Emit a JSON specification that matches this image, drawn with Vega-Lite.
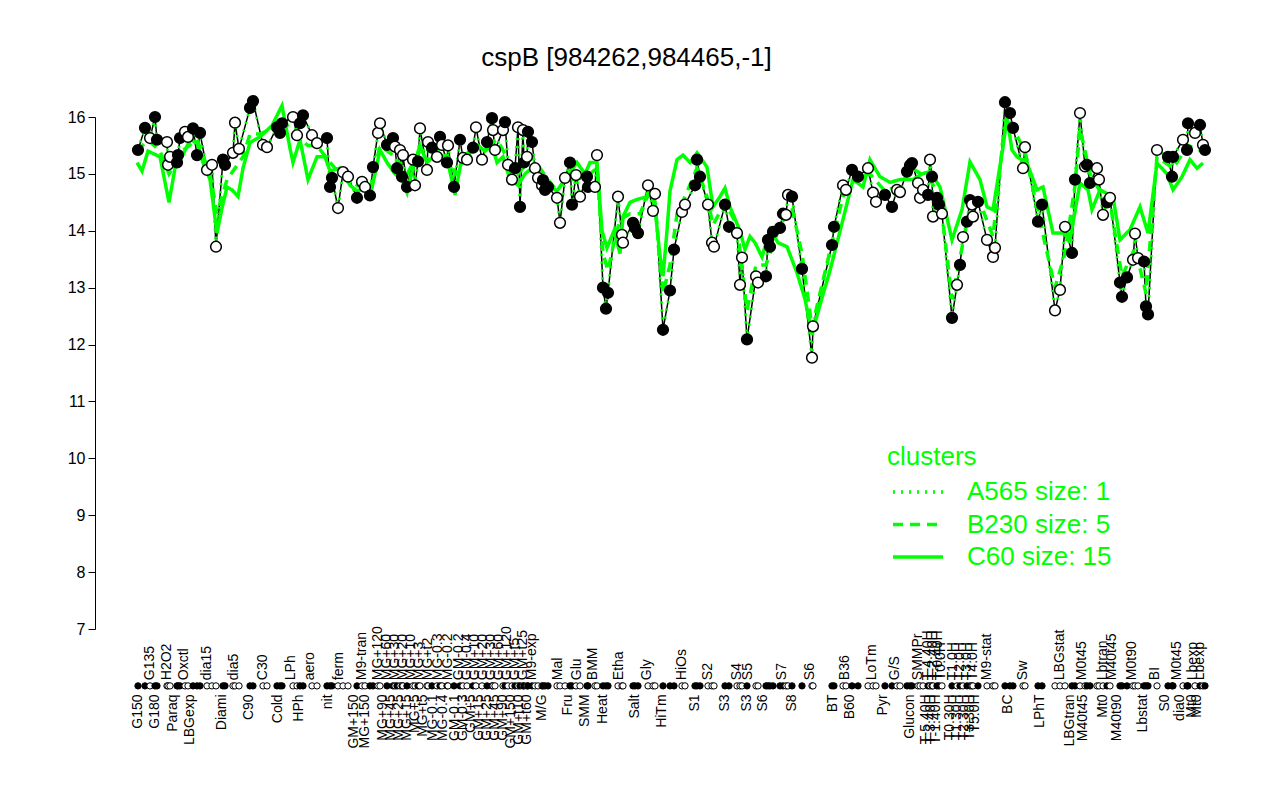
{
  "$schema": "https://vega.github.io/schema/vega-lite/v6.json",
  "width": 1153,
  "height": 512,
  "autosize": {"type": "none"},
  "padding": {"left": 95, "top": 117, "right": 32, "bottom": 171},
  "background": "white",
  "title": {"text": "cspB [984262,984465,-1]", "fontSize": 26, "font": "Liberation Sans", "fontWeight": "normal", "anchor": "middle", "dx": -45, "offset": 22, "frame": "group", "color": "black"},
  "config": {"view": {"stroke": null}, "font": "Liberation Sans"},
  "datasets": {
    "points": [
      {"s":1.25,"v":15.42,"g":"b"},{"s":3,"v":15.81,"g":"b"},{"s":4.25,"v":15.63,"g":"w"},{"s":5.5,"v":16.0,"g":"b"},{"s":6,"v":15.6,"g":"b"},
      {"s":8.5,"v":15.56,"g":"w"},{"s":8.75,"v":15.16,"g":"w"},{"s":9.25,"v":15.3,"g":"w"},{"s":11,"v":15.2,"g":"b"},{"s":11.25,"v":15.33,"g":"b"},
      {"s":11.75,"v":15.63,"g":"b"},{"s":13,"v":15.74,"g":"w"},{"s":13.75,"v":15.65,"g":"w"},{"s":15,"v":15.8,"g":"b"},{"s":16,"v":15.33,"g":"b"},
      {"s":16.75,"v":15.72,"g":"b"},{"s":18.5,"v":15.07,"g":"w"},{"s":19.75,"v":15.16,"g":"w"},{"s":20.75,"v":13.72,"g":"w"},{"s":22.5,"v":15.25,"g":"b"},
      {"s":23,"v":15.16,"g":"b"},{"s":25,"v":15.37,"g":"w"},{"s":25.5,"v":15.9,"g":"w"},{"s":26.5,"v":15.44,"g":"w"},{"s":29.25,"v":16.16,"g":"b"},
      {"s":30,"v":16.28,"g":"b"},{"s":32.5,"v":15.51,"g":"w"},{"s":33.5,"v":15.47,"g":"w"},{"s":36,"v":15.82,"g":"b"},{"s":36.75,"v":15.72,"g":"b"},
      {"s":37.25,"v":15.89,"g":"b"},{"s":40,"v":16.0,"g":"w"},{"s":41,"v":15.68,"g":"w"},{"s":41.75,"v":15.89,"g":"b"},{"s":42.5,"v":16.03,"g":"b"},
      {"s":44.75,"v":15.68,"g":"w"},{"s":46,"v":15.54,"g":"w"},{"s":48.5,"v":15.63,"g":"b"},{"s":49.25,"v":14.77,"g":"b"},{"s":49.75,"v":14.93,"g":"b"},
      {"s":51.25,"v":14.4,"g":"w"},{"s":52.5,"v":15.03,"g":"w"},{"s":53.75,"v":14.95,"g":"w"},{"s":56,"v":14.58,"g":"b"},{"s":57.25,"v":14.86,"g":"w"},
      {"s":58,"v":14.77,"g":"w"},{"s":59.25,"v":14.62,"g":"b"},{"s":60,"v":15.12,"g":"b"},{"s":61.25,"v":15.72,"g":"w"},{"s":61.75,"v":15.89,"g":"w"},
      {"s":63.5,"v":15.51,"g":"b"},{"s":65,"v":15.63,"g":"b"},{"s":65.5,"v":15.48,"g":"w"},{"s":66,"v":15.1,"g":"b"},{"s":66.75,"v":15.42,"g":"w"},
      {"s":67.25,"v":14.95,"g":"b"},{"s":67.5,"v":15.33,"g":"w"},{"s":68.5,"v":14.77,"g":"b"},{"s":70,"v":15.25,"g":"w"},{"s":70.5,"v":14.8,"g":"w"},
      {"s":71.25,"v":15.22,"g":"b"},{"s":71.75,"v":15.8,"g":"w"},{"s":73.5,"v":15.07,"g":"w"},{"s":73.75,"v":15.56,"g":"w"},{"s":74.75,"v":15.46,"g":"b"},
      {"s":76,"v":15.3,"g":"w"},{"s":76.75,"v":15.65,"g":"b"},{"s":77.25,"v":15.51,"g":"w"},{"s":78.5,"v":15.2,"g":"b"},{"s":78.75,"v":15.5,"g":"w"},
      {"s":80.25,"v":14.77,"g":"b"},{"s":81.75,"v":15.6,"g":"b"},{"s":82.5,"v":15.28,"g":"w"},{"s":83.5,"v":15.25,"g":"w"},{"s":85,"v":15.46,"g":"b"},
      {"s":85.75,"v":15.82,"g":"w"},{"s":87.25,"v":15.25,"g":"w"},{"s":88.5,"v":15.56,"g":"b"},{"s":89.75,"v":15.98,"g":"b"},{"s":90,"v":15.77,"g":"w"},
      {"s":90.5,"v":15.42,"g":"w"},{"s":92.5,"v":15.77,"g":"w"},{"s":93,"v":15.91,"g":"b"},{"s":93.75,"v":15.16,"g":"w"},{"s":94.75,"v":14.9,"g":"w"},
      {"s":95.5,"v":15.1,"g":"b"},{"s":96.25,"v":15.82,"g":"w"},{"s":96.75,"v":14.42,"g":"b"},{"s":97.5,"v":15.77,"g":"w"},{"s":97.75,"v":15.2,"g":"b"},
      {"s":98.5,"v":15.3,"g":"w"},{"s":98.75,"v":15.74,"g":"b"},{"s":99.75,"v":15.56,"g":"b"},{"s":100.5,"v":15.1,"g":"w"},{"s":101.25,"v":14.93,"g":"w"},
      {"s":102.25,"v":14.8,"g":"w"},{"s":102.5,"v":14.89,"g":"b"},{"s":103,"v":14.72,"g":"b"},{"s":103.75,"v":14.77,"g":"b"},{"s":106,"v":14.58,"g":"w"},
      {"s":106.75,"v":14.14,"g":"w"},{"s":108,"v":14.93,"g":"w"},{"s":109.25,"v":15.2,"g":"b"},{"s":109.75,"v":14.46,"g":"b"},{"s":110.75,"v":14.98,"g":"w"},
      {"s":111.75,"v":14.6,"g":"w"},{"s":113.5,"v":14.95,"g":"b"},{"s":113.75,"v":14.77,"g":"b"},{"s":115.5,"v":14.77,"g":"w"},{"s":116,"v":15.33,"g":"w"},
      {"s":117.5,"v":13.0,"g":"b"},{"s":118.25,"v":12.63,"g":"b"},{"s":118.75,"v":12.91,"g":"b"},{"s":121.25,"v":14.6,"g":"w"},{"s":122.25,"v":13.93,"g":"w"},
      {"s":122.5,"v":13.79,"g":"w"},{"s":125,"v":14.14,"g":"b"},{"s":125.5,"v":14.05,"g":"b"},{"s":126.25,"v":13.96,"g":"b"},{"s":128.75,"v":14.8,"g":"w"},
      {"s":130,"v":14.35,"g":"w"},{"s":130.5,"v":14.65,"g":"w"},{"s":132.5,"v":12.26,"g":"b"},{"s":134.25,"v":12.95,"g":"b"},{"s":135.25,"v":13.67,"g":"b"},
      {"s":137.25,"v":14.33,"g":"w"},{"s":138,"v":14.46,"g":"w"},{"s":140.5,"v":14.8,"g":"b"},{"s":141,"v":15.25,"g":"b"},{"s":141.75,"v":14.95,"g":"b"},
      {"s":143.75,"v":14.46,"g":"w"},{"s":144.75,"v":13.79,"g":"w"},{"s":145.25,"v":13.72,"g":"w"},{"s":148,"v":14.46,"g":"b"},{"s":149,"v":14.07,"g":"b"},
      {"s":151,"v":13.96,"g":"w"},{"s":151.75,"v":13.05,"g":"w"},{"s":152.25,"v":13.53,"g":"w"},{"s":153.5,"v":12.09,"g":"b"},{"s":155.75,"v":13.2,"g":"w"},
      {"s":156.25,"v":13.09,"g":"w"},{"s":158.25,"v":13.2,"g":"b"},{"s":158.75,"v":13.84,"g":"b"},{"s":159.25,"v":13.72,"g":"b"},{"s":160,"v":13.98,"g":"b"},
      {"s":161.75,"v":14.05,"g":"b"},{"s":162.5,"v":14.3,"g":"b"},{"s":163.25,"v":14.28,"g":"w"},{"s":163.75,"v":14.63,"g":"w"},{"s":164.75,"v":14.6,"g":"b"},
      {"s":167.25,"v":13.33,"g":"b"},{"s":169.75,"v":11.77,"g":"w"},{"s":170,"v":12.32,"g":"w"},{"s":174.75,"v":13.75,"g":"b"},{"s":175.25,"v":14.07,"g":"b"},
      {"s":177.5,"v":14.8,"g":"w"},{"s":178.25,"v":14.72,"g":"w"},{"s":179.75,"v":15.07,"g":"b"},{"s":181.25,"v":14.95,"g":"b"},{"s":183.75,"v":15.1,"g":"w"},
      {"s":185,"v":14.67,"g":"w"},{"s":185.75,"v":14.51,"g":"w"},{"s":188,"v":14.63,"g":"b"},{"s":189.75,"v":14.42,"g":"b"},{"s":191,"v":14.72,"g":"w"},
      {"s":191.75,"v":14.68,"g":"w"},{"s":193.5,"v":15.04,"g":"b"},{"s":194.25,"v":15.15,"g":"b"},{"s":194.75,"v":15.19,"g":"b"},{"s":196.25,"v":14.84,"g":"w"},
      {"s":196.75,"v":14.58,"g":"w"},{"s":197.5,"v":14.72,"g":"w"},{"s":198.75,"v":14.63,"g":"b"},{"s":199.25,"v":15.25,"g":"w"},{"s":199.75,"v":14.95,"g":"b"},
      {"s":200,"v":14.25,"g":"w"},{"s":201,"v":14.58,"g":"b"},{"s":201.5,"v":14.46,"g":"b"},{"s":202.25,"v":14.3,"g":"w"},{"s":204.75,"v":12.47,"g":"b"},
      {"s":206,"v":13.05,"g":"w"},{"s":206.75,"v":13.4,"g":"b"},{"s":207.5,"v":13.89,"g":"w"},{"s":208.5,"v":14.16,"g":"b"},{"s":209.25,"v":14.54,"g":"b"},
      {"s":209.75,"v":14.46,"g":"w"},{"s":210,"v":14.25,"g":"w"},{"s":211.25,"v":14.51,"g":"b"},{"s":213.5,"v":13.84,"g":"w"},{"s":215,"v":13.54,"g":"w"},
      {"s":215.5,"v":13.7,"g":"w"},{"s":218,"v":16.26,"g":"b"},{"s":219.25,"v":16.07,"g":"b"},{"s":220,"v":15.81,"g":"b"},{"s":222.5,"v":15.1,"g":"w"},
      {"s":223,"v":15.47,"g":"w"},{"s":226.25,"v":14.16,"g":"b"},{"s":227.25,"v":14.46,"g":"b"},{"s":230.5,"v":12.6,"g":"w"},{"s":231.75,"v":12.96,"g":"w"},
      {"s":233,"v":14.07,"g":"w"},{"s":234.75,"v":13.61,"g":"b"},{"s":235.5,"v":14.9,"g":"b"},{"s":236.75,"v":16.07,"g":"w"},{"s":238,"v":15.13,"g":"w"},
      {"s":238.5,"v":15.16,"g":"b"},{"s":239.25,"v":14.84,"g":"b"},{"s":241,"v":15.1,"g":"w"},{"s":241.5,"v":14.9,"g":"w"},{"s":242.5,"v":14.28,"g":"w"},
      {"s":243.5,"v":14.5,"g":"b"},{"s":244.25,"v":14.58,"g":"w"},{"s":246.75,"v":13.09,"g":"b"},{"s":247.25,"v":12.84,"g":"b"},{"s":248.5,"v":13.18,"g":"b"},
      {"s":250,"v":13.49,"g":"w"},{"s":250.5,"v":13.95,"g":"w"},{"s":251.25,"v":13.52,"g":"w"},{"s":252.75,"v":13.46,"g":"b"},{"s":253.25,"v":12.67,"g":"b"},
      {"s":253.75,"v":12.53,"g":"b"},{"s":256,"v":15.42,"g":"w"},{"s":258.75,"v":15.3,"g":"b"},{"s":259.75,"v":14.95,"g":"b"},{"s":260,"v":15.3,"g":"b"},
      {"s":262.5,"v":15.6,"g":"w"},{"s":263.5,"v":15.42,"g":"b"},{"s":263.75,"v":15.89,"g":"b"},{"s":265.5,"v":15.72,"g":"w"},{"s":266.75,"v":15.86,"g":"b"},
      {"s":267.5,"v":15.51,"g":"w"},{"s":268,"v":15.42,"g":"b"}
    ],
    "clusters": [
      {"s":1,"v":15.2,"c":"C60 size: 15"},{"s":2.25,"v":15.05,"c":"C60 size: 15"},{"s":3.75,"v":15.4,"c":"C60 size: 15"},{"s":6.75,"v":15.3,"c":"C60 size: 15"},
      {"s":9,"v":14.5,"c":"C60 size: 15"},{"s":10.5,"v":15.1,"c":"C60 size: 15"},{"s":12.25,"v":15.3,"c":"C60 size: 15"},{"s":14.25,"v":15.6,"c":"C60 size: 15"},
      {"s":16,"v":15.55,"c":"C60 size: 15"},{"s":17.5,"v":15.2,"c":"C60 size: 15"},{"s":19.25,"v":14.9,"c":"C60 size: 15"},{"s":21,"v":13.96,"c":"C60 size: 15"},
      {"s":22.25,"v":14.4,"c":"C60 size: 15"},{"s":23.5,"v":14.77,"c":"C60 size: 15"},{"s":24.75,"v":14.72,"c":"C60 size: 15"},{"s":26.25,"v":14.6,"c":"C60 size: 15"},
      {"s":27.5,"v":15.1,"c":"C60 size: 15"},{"s":29.25,"v":15.55,"c":"C60 size: 15"},{"s":31.75,"v":15.65,"c":"C60 size: 15"},{"s":34.75,"v":15.85,"c":"C60 size: 15"},
      {"s":37.25,"v":16.2,"c":"C60 size: 15"},{"s":39.25,"v":15.45,"c":"C60 size: 15"},{"s":40,"v":15.2,"c":"C60 size: 15"},{"s":41.75,"v":15.6,"c":"C60 size: 15"},
      {"s":43.75,"v":14.9,"c":"C60 size: 15"},{"s":46,"v":15.3,"c":"C60 size: 15"},{"s":48,"v":15.3,"c":"C60 size: 15"},{"s":49.25,"v":15.05,"c":"C60 size: 15"},
      {"s":51.75,"v":15.1,"c":"C60 size: 15"},{"s":54.25,"v":14.8,"c":"C60 size: 15"},{"s":56,"v":14.7,"c":"C60 size: 15"},{"s":58,"v":14.75,"c":"C60 size: 15"},
      {"s":59.25,"v":14.6,"c":"C60 size: 15"},{"s":60.5,"v":15.0,"c":"C60 size: 15"},{"s":61.75,"v":15.42,"c":"C60 size: 15"},{"s":63.5,"v":15.2,"c":"C60 size: 15"},
      {"s":65.5,"v":15.0,"c":"C60 size: 15"},{"s":67.25,"v":14.9,"c":"C60 size: 15"},{"s":68.5,"v":14.67,"c":"C60 size: 15"},{"s":70,"v":15.1,"c":"C60 size: 15"},
      {"s":71.75,"v":15.5,"c":"C60 size: 15"},{"s":73.5,"v":15.2,"c":"C60 size: 15"},{"s":75,"v":15.3,"c":"C60 size: 15"},{"s":76.75,"v":15.35,"c":"C60 size: 15"},
      {"s":78.75,"v":15.2,"c":"C60 size: 15"},{"s":80.5,"v":14.63,"c":"C60 size: 15"},{"s":82.25,"v":15.3,"c":"C60 size: 15"},{"s":84.25,"v":15.4,"c":"C60 size: 15"},
      {"s":86.25,"v":15.5,"c":"C60 size: 15"},{"s":88,"v":15.4,"c":"C60 size: 15"},{"s":89.75,"v":15.5,"c":"C60 size: 15"},{"s":91,"v":15.2,"c":"C60 size: 15"},
      {"s":92.5,"v":15.3,"c":"C60 size: 15"},{"s":94.25,"v":14.9,"c":"C60 size: 15"},{"s":96.25,"v":14.8,"c":"C60 size: 15"},{"s":98,"v":15.0,"c":"C60 size: 15"},
      {"s":99.75,"v":15.1,"c":"C60 size: 15"},{"s":101.75,"v":14.9,"c":"C60 size: 15"},{"s":103.75,"v":14.8,"c":"C60 size: 15"},{"s":106,"v":14.7,"c":"C60 size: 15"},
      {"s":108,"v":14.9,"c":"C60 size: 15"},{"s":111,"v":15.2,"c":"C60 size: 15"},{"s":113,"v":15.0,"c":"C60 size: 15"},{"s":114.25,"v":15.2,"c":"C60 size: 15"},
      {"s":116,"v":15.2,"c":"C60 size: 15"},{"s":117.25,"v":14.0,"c":"C60 size: 15"},{"s":118.5,"v":13.7,"c":"C60 size: 15"},{"s":120.25,"v":14.0,"c":"C60 size: 15"},
      {"s":121.75,"v":13.6,"c":"C60 size: 15"},{"s":122.5,"v":14.25,"c":"C60 size: 15"},{"s":124.25,"v":14.5,"c":"C60 size: 15"},{"s":126,"v":14.55,"c":"C60 size: 15"},
      {"s":128.5,"v":14.6,"c":"C60 size: 15"},{"s":129.25,"v":14.77,"c":"C60 size: 15"},{"s":130.5,"v":14.4,"c":"C60 size: 15"},{"s":131.75,"v":13.55,"c":"C60 size: 15"},
      {"s":132.5,"v":13.2,"c":"C60 size: 15"},{"s":133.5,"v":14.0,"c":"C60 size: 15"},{"s":134.25,"v":14.7,"c":"C60 size: 15"},{"s":136,"v":15.25,"c":"C60 size: 15"},
      {"s":137.5,"v":15.33,"c":"C60 size: 15"},{"s":139.25,"v":15.2,"c":"C60 size: 15"},{"s":141,"v":15.37,"c":"C60 size: 15"},{"s":143.5,"v":15.12,"c":"C60 size: 15"},
      {"s":145,"v":14.42,"c":"C60 size: 15"},{"s":146.75,"v":14.6,"c":"C60 size: 15"},{"s":148,"v":14.75,"c":"C60 size: 15"},{"s":149.25,"v":14.42,"c":"C60 size: 15"},
      {"s":151.75,"v":14.0,"c":"C60 size: 15"},{"s":153,"v":13.67,"c":"C60 size: 15"},{"s":154.25,"v":13.9,"c":"C60 size: 15"},{"s":155.5,"v":13.79,"c":"C60 size: 15"},
      {"s":157.25,"v":13.54,"c":"C60 size: 15"},{"s":159.25,"v":14.02,"c":"C60 size: 15"},{"s":161.25,"v":13.79,"c":"C60 size: 15"},{"s":163.5,"v":13.72,"c":"C60 size: 15"},
      {"s":166,"v":13.26,"c":"C60 size: 15"},{"s":168,"v":12.8,"c":"C60 size: 15"},{"s":169.75,"v":12.18,"c":"C60 size: 15"},{"s":171.75,"v":12.7,"c":"C60 size: 15"},
      {"s":174.25,"v":13.3,"c":"C60 size: 15"},{"s":177.5,"v":14.2,"c":"C60 size: 15"},{"s":180,"v":14.9,"c":"C60 size: 15"},{"s":182.5,"v":14.77,"c":"C60 size: 15"},
      {"s":184.25,"v":15.25,"c":"C60 size: 15"},{"s":186.75,"v":14.95,"c":"C60 size: 15"},{"s":189.25,"v":14.85,"c":"C60 size: 15"},{"s":191.75,"v":14.9,"c":"C60 size: 15"},
      {"s":195,"v":14.9,"c":"C60 size: 15"},{"s":197.25,"v":15.0,"c":"C60 size: 15"},{"s":199.25,"v":15.04,"c":"C60 size: 15"},{"s":201.75,"v":14.77,"c":"C60 size: 15"},
      {"s":204.75,"v":13.84,"c":"C60 size: 15"},{"s":207.25,"v":14.37,"c":"C60 size: 15"},{"s":209.25,"v":15.21,"c":"C60 size: 15"},{"s":211.75,"v":14.9,"c":"C60 size: 15"},
      {"s":213.5,"v":14.42,"c":"C60 size: 15"},{"s":215,"v":14.37,"c":"C60 size: 15"},{"s":217.5,"v":15.47,"c":"C60 size: 15"},{"s":218.5,"v":16.0,"c":"C60 size: 15"},
      {"s":219.75,"v":15.42,"c":"C60 size: 15"},{"s":221,"v":15.3,"c":"C60 size: 15"},{"s":223.5,"v":15.19,"c":"C60 size: 15"},{"s":226,"v":14.72,"c":"C60 size: 15"},
      {"s":227.5,"v":14.77,"c":"C60 size: 15"},{"s":230,"v":13.96,"c":"C60 size: 15"},{"s":232.5,"v":13.96,"c":"C60 size: 15"},{"s":234.25,"v":13.84,"c":"C60 size: 15"},
      {"s":236.75,"v":14.84,"c":"C60 size: 15"},{"s":238.75,"v":14.72,"c":"C60 size: 15"},{"s":239.75,"v":14.37,"c":"C60 size: 15"},{"s":241.75,"v":14.72,"c":"C60 size: 15"},
      {"s":245,"v":14.6,"c":"C60 size: 15"},{"s":246.75,"v":13.84,"c":"C60 size: 15"},{"s":249.25,"v":14.02,"c":"C60 size: 15"},{"s":251.75,"v":14.42,"c":"C60 size: 15"},
      {"s":253.75,"v":13.96,"c":"C60 size: 15"},{"s":256,"v":15.19,"c":"C60 size: 15"},{"s":258.5,"v":15.0,"c":"C60 size: 15"},{"s":260,"v":14.72,"c":"C60 size: 15"},
      {"s":262.25,"v":14.95,"c":"C60 size: 15"},{"s":264.25,"v":15.25,"c":"C60 size: 15"},{"s":266,"v":15.1,"c":"C60 size: 15"},{"s":267.5,"v":15.19,"c":"C60 size: 15"},
      {"s":1,"v":15.4,"c":"B230 size: 5"},{"s":3.75,"v":15.6,"c":"B230 size: 5"},{"s":6.75,"v":15.4,"c":"B230 size: 5"},{"s":9,"v":15.0,"c":"B230 size: 5"},
      {"s":12.25,"v":15.4,"c":"B230 size: 5"},{"s":16,"v":15.6,"c":"B230 size: 5"},{"s":19.25,"v":15.0,"c":"B230 size: 5"},{"s":21,"v":14.3,"c":"B230 size: 5"},
      {"s":23.5,"v":14.9,"c":"B230 size: 5"},{"s":27.5,"v":15.3,"c":"B230 size: 5"},{"s":29.25,"v":15.7,"c":"B230 size: 5"},{"s":31.75,"v":15.7,"c":"B230 size: 5"},
      {"s":34.75,"v":15.8,"c":"B230 size: 5"},{"s":37.25,"v":16.0,"c":"B230 size: 5"},{"s":40,"v":15.7,"c":"B230 size: 5"},{"s":43.75,"v":15.5,"c":"B230 size: 5"},
      {"s":46,"v":15.5,"c":"B230 size: 5"},{"s":49.25,"v":15.2,"c":"B230 size: 5"},{"s":51.75,"v":15.0,"c":"B230 size: 5"},{"s":56,"v":14.8,"c":"B230 size: 5"},
      {"s":59.25,"v":14.7,"c":"B230 size: 5"},{"s":61.75,"v":15.5,"c":"B230 size: 5"},{"s":65.5,"v":15.3,"c":"B230 size: 5"},{"s":68.5,"v":15.0,"c":"B230 size: 5"},
      {"s":71.75,"v":15.4,"c":"B230 size: 5"},{"s":75,"v":15.4,"c":"B230 size: 5"},{"s":78.75,"v":15.3,"c":"B230 size: 5"},{"s":80.5,"v":15.0,"c":"B230 size: 5"},
      {"s":84.25,"v":15.4,"c":"B230 size: 5"},{"s":88,"v":15.5,"c":"B230 size: 5"},{"s":91,"v":15.6,"c":"B230 size: 5"},{"s":94.25,"v":15.2,"c":"B230 size: 5"},
      {"s":96.25,"v":15.0,"c":"B230 size: 5"},{"s":99.75,"v":15.3,"c":"B230 size: 5"},{"s":103.75,"v":14.9,"c":"B230 size: 5"},{"s":106,"v":14.7,"c":"B230 size: 5"},
      {"s":108,"v":14.9,"c":"B230 size: 5"},{"s":111,"v":14.9,"c":"B230 size: 5"},{"s":114.25,"v":15.0,"c":"B230 size: 5"},{"s":116,"v":15.1,"c":"B230 size: 5"},
      {"s":117.5,"v":13.6,"c":"B230 size: 5"},{"s":118.75,"v":13.3,"c":"B230 size: 5"},{"s":120.25,"v":13.8,"c":"B230 size: 5"},{"s":121.75,"v":14.2,"c":"B230 size: 5"},
      {"s":124.25,"v":14.3,"c":"B230 size: 5"},{"s":126.75,"v":14.3,"c":"B230 size: 5"},{"s":129.25,"v":14.7,"c":"B230 size: 5"},{"s":130.5,"v":14.5,"c":"B230 size: 5"},
      {"s":132.5,"v":12.9,"c":"B230 size: 5"},{"s":134.25,"v":13.4,"c":"B230 size: 5"},{"s":136,"v":14.3,"c":"B230 size: 5"},{"s":138,"v":14.6,"c":"B230 size: 5"},
      {"s":141,"v":15.1,"c":"B230 size: 5"},{"s":143.5,"v":14.6,"c":"B230 size: 5"},{"s":145,"v":14.1,"c":"B230 size: 5"},{"s":148,"v":14.5,"c":"B230 size: 5"},
      {"s":151,"v":14.1,"c":"B230 size: 5"},{"s":153.5,"v":12.6,"c":"B230 size: 5"},{"s":155.75,"v":13.4,"c":"B230 size: 5"},{"s":158.25,"v":13.4,"c":"B230 size: 5"},
      {"s":161.75,"v":14.1,"c":"B230 size: 5"},{"s":164.75,"v":14.4,"c":"B230 size: 5"},{"s":167.25,"v":13.6,"c":"B230 size: 5"},{"s":169.75,"v":12.3,"c":"B230 size: 5"},
      {"s":174.75,"v":13.8,"c":"B230 size: 5"},{"s":177.5,"v":14.6,"c":"B230 size: 5"},{"s":181.25,"v":15.0,"c":"B230 size: 5"},{"s":184.25,"v":15.0,"c":"B230 size: 5"},
      {"s":188,"v":14.7,"c":"B230 size: 5"},{"s":191.75,"v":14.8,"c":"B230 size: 5"},{"s":194.75,"v":15.1,"c":"B230 size: 5"},{"s":199.25,"v":14.9,"c":"B230 size: 5"},
      {"s":201.75,"v":14.6,"c":"B230 size: 5"},{"s":204.75,"v":12.8,"c":"B230 size: 5"},{"s":207.25,"v":13.7,"c":"B230 size: 5"},{"s":209.25,"v":14.4,"c":"B230 size: 5"},
      {"s":211.75,"v":14.5,"c":"B230 size: 5"},{"s":215,"v":13.9,"c":"B230 size: 5"},{"s":217.5,"v":15.6,"c":"B230 size: 5"},{"s":218.5,"v":16.0,"c":"B230 size: 5"},
      {"s":220,"v":15.8,"c":"B230 size: 5"},{"s":223,"v":15.4,"c":"B230 size: 5"},{"s":226,"v":14.4,"c":"B230 size: 5"},{"s":230.5,"v":13.0,"c":"B230 size: 5"},
      {"s":233,"v":13.6,"c":"B230 size: 5"},{"s":235.5,"v":14.8,"c":"B230 size: 5"},{"s":236.75,"v":15.8,"c":"B230 size: 5"},{"s":239.25,"v":15.0,"c":"B230 size: 5"},
      {"s":242.5,"v":14.6,"c":"B230 size: 5"},{"s":244.25,"v":14.5,"c":"B230 size: 5"},{"s":247.25,"v":13.2,"c":"B230 size: 5"},{"s":250.5,"v":13.7,"c":"B230 size: 5"},
      {"s":253.25,"v":12.9,"c":"B230 size: 5"},{"s":256,"v":15.3,"c":"B230 size: 5"},{"s":260,"v":15.1,"c":"B230 size: 5"},{"s":263.75,"v":15.5,"c":"B230 size: 5"},
      {"s":267.5,"v":15.4,"c":"B230 size: 5"}
    ],
    "labelsUpper": [
      {"s":4.25,"name":"G135"},{"s":8.5,"name":"H2O2"},{"s":12.75,"name":"Oxctl"},{"s":18.5,"name":"dia15"},{"s":25.25,"name":"dia5"},
      {"s":32.5,"name":"C30"},{"s":39.5,"name":"LPh"},{"s":44.25,"name":"aero"},{"s":51.5,"name":"ferm"},{"s":57.25,"name":"M9-tran"},
      {"s":61.25,"name":"MG+120"},{"s":63.5,"name":"MG+60"},{"s":65.5,"name":"MG+30"},{"s":67.5,"name":"MG+20"},{"s":69.5,"name":"MG+10"},
      {"s":71.5,"name":"MG+3"},{"s":73.75,"name":"MG+t2"},{"s":76.25,"name":"MG-0.3"},{"s":78.75,"name":"MG-0.2"},{"s":81.5,"name":"GM-0.2"},
      {"s":83.5,"name":"GM-0.4"},{"s":85.5,"name":"GM+10"},{"s":87.5,"name":"GM+20"},{"s":89.5,"name":"GM+30"},{"s":91.5,"name":"GM+60"},
      {"s":93.5,"name":"GM+120"},{"s":95.5,"name":"GM+t5"},{"s":97.5,"name":"GM+t25"},{"s":99.75,"name":"M9-exp"},{"s":106.25,"name":"Mal"},
      {"s":111,"name":"Glu"},{"s":115,"name":"BMM"},{"s":121.5,"name":"Etha"},{"s":128.5,"name":"Gly"},{"s":137.25,"name":"HiOs"},
      {"s":143.75,"name":"S2"},{"s":151,"name":"S4"},{"s":153.75,"name":"S5"},{"s":162.25,"name":"S7"},{"s":169.25,"name":"S6"},
      {"s":178,"name":"B36"},{"s":184.75,"name":"LoTm"},{"s":190.5,"name":"G/S"},{"s":196.25,"name":"SMMPr"},{"s":198.75,"name":"T-4.40H"},
      {"s":200,"name":"T-2.40H"},{"s":201.25,"name":"T-0.40H"},{"s":202,"name":"T0.0H"},{"s":205,"name":"T1.0H"},{"s":206.75,"name":"T2.0H"},
      {"s":208.5,"name":"T3.0H"},{"s":210,"name":"T4.0H"},{"s":213.5,"name":"M9-stat"},{"s":222.5,"name":"Sw"},{"s":231.75,"name":"LBGstat"},
      {"s":237.25,"name":"M0t45"},{"s":242.5,"name":"Lbtran"},{"s":244.75,"name":"M40t45"},{"s":249.75,"name":"M0t90"},{"s":255.5,"name":"BI"},
      {"s":261,"name":"M0t45"},{"s":265,"name":"Lbexp"},{"s":266.75,"name":"Lbexp"}
    ],
    "labelsLower": [
      {"s":1.25,"name":"G150"},{"s":5.5,"name":"G180"},{"s":10,"name":"Paraq"},{"s":14.25,"name":"LBGexp"},{"s":22.25,"name":"Diami"},
      {"s":29,"name":"C90"},{"s":36.25,"name":"Cold"},{"s":41.5,"name":"HPh"},{"s":48.75,"name":"nit"},{"s":55.25,"name":"GM+150"},
      {"s":58,"name":"MG+150"},{"s":62.5,"name":"MG+90"},{"s":64.5,"name":"MG+45"},{"s":66.5,"name":"MG+25"},{"s":68.5,"name":"MG+15"},
      {"s":70.5,"name":"MG+5"},{"s":72.5,"name":"MG+t5"},{"s":75,"name":"MG-0.1"},{"s":77.5,"name":"MG-0.4"},{"s":80.5,"name":"GM-0.1"},
      {"s":82.5,"name":"GM-0.3"},{"s":84.5,"name":"GM+5"},{"s":86.5,"name":"GM+15"},{"s":88.5,"name":"GM+25"},{"s":90.5,"name":"GM+45"},
      {"s":92.5,"name":"GM+90"},{"s":94.5,"name":"GM+150"},{"s":96.5,"name":"GM+t10"},{"s":98.5,"name":"GM+t60"},{"s":102.25,"name":"M/G"},
      {"s":108.75,"name":"Fru"},{"s":113,"name":"SMM"},{"s":117.5,"name":"Heat"},{"s":125.5,"name":"Salt"},{"s":132.25,"name":"HiTm"},
      {"s":140.5,"name":"S1"},{"s":148,"name":"S3"},{"s":153.5,"name":"S3"},{"s":157.5,"name":"S6"},{"s":164.75,"name":"S8"},
      {"s":175,"name":"BT"},{"s":179.25,"name":"B60"},{"s":187.5,"name":"Pyr"},{"s":194.25,"name":"Glucon"},{"s":198.25,"name":"T-5.40H"},
      {"s":199.5,"name":"T-3.40H"},{"s":200.75,"name":"T-1.40H"},{"s":204.25,"name":"T0.30H"},{"s":206,"name":"T1.30H"},{"s":207.75,"name":"T2.30H"},
      {"s":209.25,"name":"T3.30H"},{"s":210.5,"name":"T5.0H"},{"s":218.75,"name":"BC"},{"s":226.75,"name":"LPhT"},{"s":234.25,"name":"LBGtran"},
      {"s":237.5,"name":"M40t45"},{"s":242.5,"name":"Mt0"},{"s":246,"name":"M40t90"},{"s":252.5,"name":"Lbstat"},{"s":258,"name":"S0"},
      {"s":261.75,"name":"dia0"},{"s":264.75,"name":"Mt0"},{"s":266,"name":"Mt0"}
    ]
  },
  "layer": [
    {
      "data": {"name": "points"},
      "mark": {"type": "line", "color": "black", "strokeWidth": 1.5, "clip": false},
      "encoding": {
        "x": {"field": "s", "type": "quantitative", "scale": {"domain": [-9.5, 278.75], "nice": false, "zero": false}, "axis": null},
        "y": {"field": "v", "type": "quantitative", "scale": {"domain": [7, 16], "nice": false, "zero": false},
              "axis": {"values": [7,8,9,10,11,12,13,14,15,16], "format": "d", "grid": false, "title": null, "domainColor": "black", "tickColor": "black", "labelColor": "black", "labelFontSize": 16, "labelFont": "Liberation Sans", "tickSize": 7, "labelPadding": 3, "domainWidth": 1, "tickWidth": 1}}
      }
    },
    {
      "data": {"name": "clusters"},
      "mark": {"type": "line", "color": "#00ff00", "strokeWidth": 3.5, "clip": false},
      "encoding": {
        "x": {"field": "s", "type": "quantitative"},
        "y": {"field": "v", "type": "quantitative", "title": null},
        "detail": {"field": "c"},
        "strokeDash": {"field": "c", "type": "nominal",
          "scale": {"domain": ["A565 size: 1", "B230 size: 5", "C60 size: 15"], "range": [[2, 6], [10, 7], [1, 0]]},
          "legend": {"title": "clusters", "orient": "none", "legendX": 792, "legendY": 327, "symbolType": "M-0.7,0L4.3,0", "symbolStrokeColor": "#00ff00", "symbolStrokeWidth": 3.5, "symbolSize": 400, "labelColor": "#00ff00", "titleColor": "#00ff00", "labelFontSize": 26, "titleFontSize": 26, "titleFontWeight": "normal", "labelFont": "Liberation Sans", "titleFont": "Liberation Sans", "labelOffset": 54, "rowPadding": 6.5, "titlePadding": 9}}
      }
    },
    {
      "data": {"name": "points"},
      "mark": {"type": "line", "color": "#00ff00", "strokeWidth": 3, "clip": false},
      "encoding": {
        "x": {"field": "s", "type": "quantitative"},
        "y": {"field": "v", "type": "quantitative", "title": null},
        "strokeDash": {"datum": "A565 size: 1"}
      }
    },
    {
      "data": {"name": "points"},
      "mark": {"type": "point", "shape": "circle", "filled": false, "size": 115, "stroke": "black", "strokeWidth": 1.5, "opacity": 1, "clip": false},
      "encoding": {
        "x": {"field": "s", "type": "quantitative"},
        "y": {"field": "v", "type": "quantitative", "title": null},
        "fill": {"field": "g", "type": "nominal", "scale": {"domain": ["b", "w"], "range": ["black", "white"]}, "legend": null}
      }
    },
    {
      "data": {"name": "points"},
      "mark": {"type": "point", "shape": "circle", "size": 40, "stroke": "black", "strokeWidth": 1, "opacity": 1, "clip": false},
      "encoding": {
        "x": {"field": "s", "type": "quantitative"},
        "y": {"datum": 6},
        "fill": {"field": "g", "type": "nominal", "legend": null}
      }
    },
    {
      "data": {"name": "labelsUpper"},
      "mark": {"type": "text", "angle": 270, "align": "left", "baseline": "middle", "fontSize": 14, "font": "Liberation Sans", "color": "black", "clip": false},
      "encoding": {
        "x": {"field": "s", "type": "quantitative"},
        "y": {"datum": 6.1},
        "text": {"field": "name"}
      }
    },
    {
      "data": {"name": "labelsLower"},
      "mark": {"type": "text", "angle": 270, "align": "right", "baseline": "middle", "fontSize": 14, "font": "Liberation Sans", "color": "black", "clip": false},
      "encoding": {
        "x": {"field": "s", "type": "quantitative"},
        "y": {"datum": 5.85},
        "text": {"field": "name"}
      }
    }
  ]
}
